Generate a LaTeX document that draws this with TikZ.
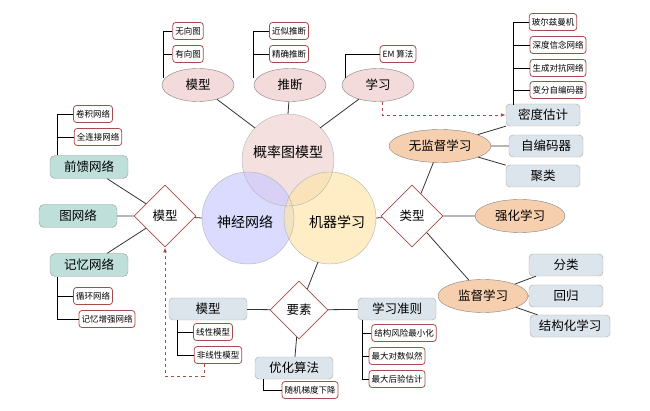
\documentclass[tikz,border=0pt]{standalone}
\usepackage{fontspec}
\newfontfamily\cjk{Noto Sans CJK SC}
\usetikzlibrary{shapes.geometric,arrows.meta}
\definecolor{rd}{HTML}{A84B4B}
\definecolor{pk}{HTML}{F3DADB}
\definecolor{tl}{HTML}{BFDFDA}
\definecolor{gb}{HTML}{DDE5EC}
\definecolor{og}{HTML}{F6CFAE}
\tikzset{
 sm/.style={draw=rd,thick,rounded corners=3pt,fill=white,font=\cjk\fontsize{8.5}{9}\selectfont,inner sep=2.5pt,minimum height=17pt},
 el/.style={ellipse,draw=gray,fill=pk,font=\cjk\fontsize{12.5}{13}\selectfont,minimum width=72pt,minimum height=33pt},
 gbox/.style={draw=gray!70,rounded corners=4pt,fill=gb,font=\cjk\fontsize{12.5}{13}\selectfont,minimum height=22pt,minimum width=74pt},
 tbox/.style={draw=gray!80,rounded corners=5pt,fill=tl,font=\cjk\fontsize{12.5}{13}\selectfont,minimum height=23pt,minimum width=78pt},
 dia/.style={diamond,draw=rd,thick,fill=white,aspect=1,minimum size=62pt,inner sep=0pt,font=\cjk\fontsize{12.5}{13}\selectfont},
 oel/.style={ellipse,draw=gray,fill=og,font=\cjk\fontsize{12.5}{13}\selectfont,minimum height=33pt},
 ln/.style={draw=black!80,thick},
 br/.style={draw=black,thick},
 dsh/.style={draw=rd,thick,dashed,-{Latex[length=5pt]}}
}
\begin{document}
\begin{tikzpicture}[x=1pt,y=-1pt]
\useasboundingbox (0,0) rectangle (650,411);
% circles
\fill[pk,opacity=.85] (288,160) circle (46);
\fill[blue!20,opacity=.7] (248,218) circle (46);
\fill[yellow!40!orange!30,opacity=.7] (330,218) circle (46);
\draw[gray!60] (288,160) circle (46) (248,218) circle (46) (330,218) circle (46);
\node[font=\cjk\fontsize{14}{15}\selectfont] (pgm) at (288,152) {概率图模型};
\node[font=\cjk\fontsize{14}{15}\selectfont] (nn) at (245,222) {神经网络};
\node[font=\cjk\fontsize{14}{15}\selectfont] (ml) at (337,222) {机器学习};
\coordinate (ctop) at (288,114);
\coordinate (cleft) at (202,218);
\coordinate (cright) at (376,218);
\coordinate (cbot) at (318,262);
% top
\node[el] (m1) at (198,85) {模型};
\node[el] (inf) at (290,85) {推断};
\node[el] (lr) at (378,85) {学习};
\node[sm] (a1) at (188,31) {无向图};
\node[sm] (a2) at (188,54) {有向图};
\node[sm] (b1) at (289,31) {近似推断};
\node[sm] (b2) at (289,54) {精确推断};
\node[sm] (c1) at (398,54) {EM 算法};
\draw[br] (a1.west) -| (163,78) (a2.west) -- (163,54);
\draw[br] (b1.west) -| (253,78) (b2.west) -- (253,54);
\draw[br] (c1.west) -| (345,78);
\draw[ln] (m1) -- (255,128) (inf) -- (ctop) (lr) -- (320,128);
% right
\node[dia] (ty) at (412,216) {类型};
\node[oel,minimum width=102pt] (us) at (440,146) {无监督学习};
\node[oel,minimum width=90pt] (rl) at (520,216) {强化学习};
\node[oel,minimum width=90pt] (sl) at (483,296) {监督学习};
\node[gbox] (d1) at (543,115) {密度估计};
\node[gbox] (d2) at (546,146) {自编码器};
\node[gbox] (d3) at (543,176) {聚类};
\node[gbox] (e1) at (566,265) {分类};
\node[gbox] (e2) at (566,296) {回归};
\node[gbox,minimum width=80pt] (e3) at (570,326) {结构化学习};
\node[sm] (f1) at (553,22) {玻尔兹曼机};
\node[sm] (f2) at (558,45) {深度信念网络};
\node[sm] (f3) at (558,68) {生成对抗网络};
\node[sm] (f4) at (558,90) {变分自编码器};
\draw[br] (f1.west) -| (513,105) (f2.west) -- (513,45) (f3.west) -- (513,68) (f4.west) -- (513,90);
\draw[ln] (ty) -- (cright) (ty) -- (us) (ty) -- (rl) (ty) -- (sl);
\draw[ln] (us) -- (d1) (us) -- (d2) (us) -- (d3) (sl) -- (e1) (sl) -- (e2) (sl) -- (e3);
% left
\node[dia] (md) at (165,216) {模型};
\node[tbox] (g1) at (89,167) {前馈网络};
\node[tbox] (g2) at (78,216) {图网络};
\node[tbox] (g3) at (89,265) {记忆网络};
\node[sm] (h1) at (93,114) {卷积网络};
\node[sm] (h2) at (98,137) {全连接网络};
\node[sm] (h3) at (93,296) {循环网络};
\node[sm] (h4) at (107,319) {记忆增强网络};
\draw[br] (h1.west) -| (57,155) (h2.west) -- (57,137);
\draw[br] (h4.west) -| (57,277) (h3.west) -- (57,296);
\draw[ln] (md) -- (cleft) (md) -- (g1) (md) -- (g2) (md) -- (g3);
% bottom
\node[dia,minimum size=58pt] (ys) at (299,310) {要素};
\node[gbox,minimum width=78pt] (bm) at (208,309) {模型};
\node[gbox,minimum width=78pt] (oa) at (294,368) {优化算法};
\node[gbox,minimum width=78pt] (lc) at (397,309) {学习准则};
\node[sm] (i1) at (213,332) {线性模型};
\node[sm] (i2) at (218,355) {非线性模型};
\node[sm] (j1) at (310,390) {随机梯度下降};
\node[sm] (k1) at (404,333) {结构风险最小化};
\node[sm] (k2) at (397,356) {最大对数似然};
\node[sm] (k3) at (397,379) {最大后验估计};
\draw[br] (i2.west) -| (177,320) (i1.west) -- (177,332);
\draw[br] (j1.west) -| (263,379);
\draw[br] (k3.west) -| (362,320) (k1.west) -- (362,333) (k2.west) -- (362,356);
\draw[ln] (ys) -- (cbot) (ys) -- (bm) (ys) -- (oa) (ys) -- (lc);
% dashed
\draw[dsh] (lr.south) ++(4,0) coordinate (ls) -- (ls |- d1.west) -- (d1.west);
\draw[dsh] (i2.south) ++(-14,0) coordinate (ns) -- ++(0,12) -| (md.south);
\end{tikzpicture}
\end{document}
